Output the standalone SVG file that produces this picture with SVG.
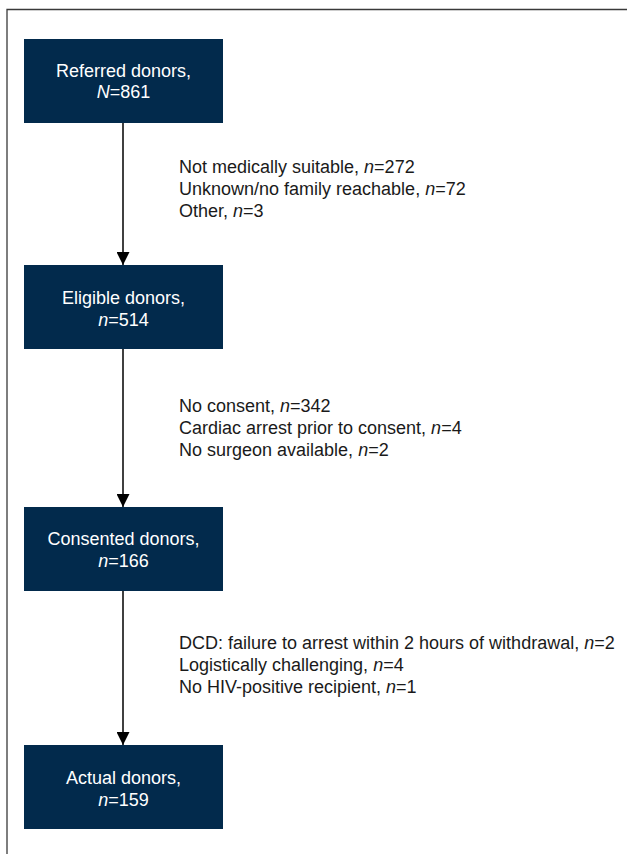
<svg xmlns="http://www.w3.org/2000/svg" width="627" height="854" viewBox="0 0 627 854">
<defs>
<style>
.box{fill:#022a4c;}
.bt{font-family:"Liberation Sans",Arial,sans-serif;font-size:18px;fill:#ffffff;text-anchor:middle;}
.st{font-family:"Liberation Sans",Arial,sans-serif;font-size:18px;fill:#1a1a1a;}
.conn{stroke:#000;stroke-width:1.5;fill:none;}
</style>
<marker id="ah" markerWidth="13" markerHeight="13" refX="13" refY="6.5" orient="auto" markerUnits="userSpaceOnUse">
<path d="M0,0 L13,6.5 L0,13 Z" fill="#000"/>
</marker>
</defs>
<rect width="627" height="854" fill="#fff"/>
<path d="M7,854 V9.5 H627" stroke="#3a3a3a" stroke-width="1.3" fill="none"/>
<g id="connectors">
<line class="conn" x1="123" y1="123" x2="123" y2="265" marker-end="url(#ah)"/>
<line class="conn" x1="123" y1="349" x2="123" y2="507" marker-end="url(#ah)"/>
<line class="conn" x1="123" y1="591" x2="123" y2="745" marker-end="url(#ah)"/>
</g>
<g id="referred">
<rect class="box" x="24" y="39" width="199" height="84"/>
<text class="bt" x="123.5" y="77">Referred donors,</text>
<text class="bt" x="123.5" y="98"><tspan font-style="italic">N</tspan>=861</text>
</g>
<g id="excl1">
<text class="st" x="179" y="173">Not medically suitable, <tspan font-style="italic">n</tspan>=272</text>
<text class="st" x="179" y="195">Unknown/no family reachable, <tspan font-style="italic">n</tspan>=72</text>
<text class="st" x="179" y="217">Other, <tspan font-style="italic">n</tspan>=3</text>
</g>
<g id="eligible">
<rect class="box" x="24" y="265" width="199" height="84"/>
<text class="bt" x="123.5" y="304">Eligible donors,</text>
<text class="bt" x="123.5" y="326"><tspan font-style="italic">n</tspan>=514</text>
</g>
<g id="excl2">
<text class="st" x="179" y="412">No consent, <tspan font-style="italic">n</tspan>=342</text>
<text class="st" x="179" y="434">Cardiac arrest prior to consent, <tspan font-style="italic">n</tspan>=4</text>
<text class="st" x="179" y="456">No surgeon available, <tspan font-style="italic">n</tspan>=2</text>
</g>
<g id="consented">
<rect class="box" x="24" y="507" width="199" height="84"/>
<text class="bt" x="123.5" y="545">Consented donors,</text>
<text class="bt" x="123.5" y="567"><tspan font-style="italic">n</tspan>=166</text>
</g>
<g id="excl3">
<text class="st" x="179" y="649">DCD: failure to arrest within 2 hours of withdrawal, <tspan font-style="italic">n</tspan>=2</text>
<text class="st" x="179" y="671">Logistically challenging, <tspan font-style="italic">n</tspan>=4</text>
<text class="st" x="179" y="693">No HIV-positive recipient, <tspan font-style="italic">n</tspan>=1</text>
</g>
<g id="actual">
<rect class="box" x="24" y="745" width="199" height="84"/>
<text class="bt" x="123.5" y="784">Actual donors,</text>
<text class="bt" x="123.5" y="806"><tspan font-style="italic">n</tspan>=159</text>
</g>
</svg>
